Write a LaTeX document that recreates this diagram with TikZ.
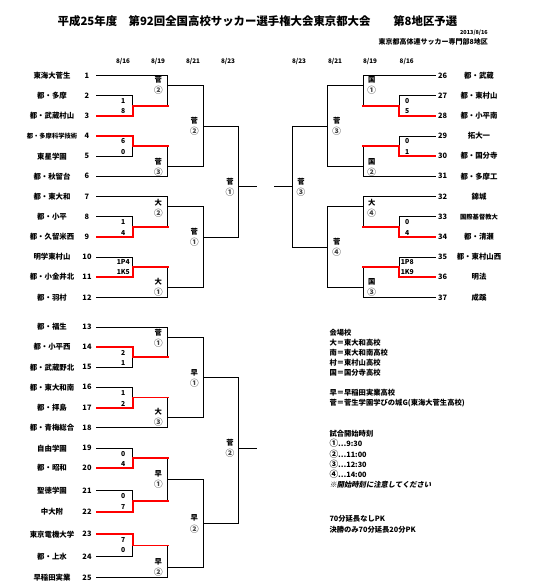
\documentclass[tikz,border=0pt]{standalone}
\usepackage{fontspec}
\setmainfont{Noto Sans CJK JP}
\newfontfamily\cjkslant{Noto Sans CJK JP}[FakeSlant=0.2]
\newcommand\rndlab[5]{\node[rl] (#1a) at (#2,#3) {#4};\node[rl,text=black!75,font=\bfseries\fontsize{8.6}{9}\selectfont] (#1b) at (#2,#3+10.6) {#5};}
\newcommand\scpair[5]{\node[sc] (#1a) at (#2,#3) {#4};\node[sc] (#1b) at (#2,#3+10.6) {#5};}
\newcommand\bigc[1]{{\fontsize{8.6}{9}\selectfont #1}}
\begin{document}
\begin{tikzpicture}[x=1pt,y=-1pt,
  bl/.style={line width=0.75pt},
  rd/.style={draw=red,line width=1.7pt},
  tm/.style={font=\bfseries\fontsize{7.4}{8}\selectfont,inner sep=0pt},
  num/.style={font=\bfseries\fontsize{7.4}{8}\selectfont,inner sep=0pt},
  sc/.style={font=\bfseries\fontsize{6.8}{8}\selectfont,inner sep=0pt},
  rl/.style={font=\bfseries\fontsize{7.3}{8}\selectfont,inner sep=0pt},
  hd/.style={font=\bfseries\fontsize{6.3}{7}\selectfont,inner sep=0pt},
  lg/.style={font=\bfseries\fontsize{7.3}{8}\selectfont,inner sep=0pt,anchor=west}]
\useasboundingbox (0,0) rectangle (539,588);

% title
\node[inner sep=0pt,font=\bfseries\fontsize{11.4}{13}\selectfont] (title) at (257.5,21) {平成25年度　第92回全国高校サッカー選手権大会東京都大会　　第8地区予選};
\node[inner sep=0pt,anchor=east,font=\bfseries\fontsize{5.5}{6}\selectfont] (date) at (488,32.3) {2013/8/16};
\node[inner sep=0pt,anchor=east,font=\bfseries\fontsize{7}{8}\selectfont] (org) at (488,42.3) {東京都高体連サッカー専門部8地区};

% round dates
\node[hd] (hL1) at (123,61.3) {8/16};
\node[hd] (hL2) at (158,61.3) {8/19};
\node[hd] (hL3) at (193,61.3) {8/21};
\node[hd] (hL4) at (228,61.3) {8/23};
\node[hd] (hR4) at (299,61.3) {8/23};
\node[hd] (hR3) at (335,61.3) {8/21};
\node[hd] (hR2) at (370,61.3) {8/19};
\node[hd] (hR1) at (406.7,61.3) {8/16};

% teams left
\foreach \i/\y/\s in {1/75.5/東海大菅生,2/95.7/都・多摩,3/115.8/都・武蔵村山,4/136/{\fontsize{6.3}{7}\selectfont 都・多摩科学技術},5/156.2/東星学園,6/176.3/都・秋留台,7/196.5/都・東大和,8/216.7/都・小平,9/236.9/都・久留米西,10/257/明学東村山,11/277.2/都・小金井北,12/297.4/都・羽村,13/327/都・福生,14/346.9/都・小平西,15/367.3/都・武蔵野北,16/387.3/都・東大和南,17/407.7/都・拝島,18/427.7/都・青梅総合,19/448.3/自由学園,20/467.9/都・昭和,21/490.7/聖徳学園,22/511.7/中大附,23/534.3/東京電機大学,24/556.7/都・上水,25/577.7/早稲田実業}
{\node[tm] (t\i) at (52,\y) {\s};\node[num] (n\i) at (87,\y) {\i};}

% teams right
\foreach \i/\y/\s in {26/75.5/都・武蔵,27/95.7/都・東村山,28/115.8/都・小平南,29/136/拓大一,30/156.2/都・国分寺,31/176.3/都・多摩工,32/196.5/錦城,33/216.7/{\fontsize{6.3}{7}\selectfont 国際基督教大},34/236.9/都・清瀬,35/257/都・東村山西,36/277.2/明法,37/297.4/成蹊}
{\node[tm] (t\i) at (479,\y) {\s};\node[num] (n\i) at (442.7,\y) {\i};}

% ---------- left top ----------
\draw[bl] (96,75.5) -- (167.3,75.5) -- (167.3,105.7);
\draw[bl] (96,95.7) -- (132.7,95.7) -- (132.7,105.7);
\draw[bl] (96,156.2) -- (132.7,156.2) -- (132.7,146.1);
\draw[bl] (96,176.3) -- (167.3,176.3) -- (167.3,146.1);
\draw[bl] (167.3,85.6) -- (203.3,85.6) -- (203.3,166.2) -- (167.3,166.2);
\draw[bl] (203.3,125.9) -- (238.7,125.9);
\draw[rd] (96,115.8) -- (132.7,115.8) -- (132.7,105.7) -- (168.7,105.7);
\draw[rd] (96,136) -- (132.7,136) -- (132.7,146.1) -- (168.7,146.1);

\draw[bl] (96,196.5) -- (167.3,196.5) -- (167.3,226.8);
\draw[bl] (96,216.7) -- (132.7,216.7) -- (132.7,226.8);
\draw[bl] (96,257) -- (132.7,257) -- (132.7,267.1);
\draw[bl] (96,297.4) -- (167.3,297.4) -- (167.3,267.1);
\draw[bl] (167.3,206.6) -- (203.3,206.6) -- (203.3,287.3) -- (167.3,287.3);
\draw[bl] (203.3,236.9) -- (238.7,236.9);
\draw[rd] (96,236.9) -- (132.7,236.9) -- (132.7,226.8) -- (168.7,226.8);
\draw[rd] (96,277.2) -- (132.7,277.2) -- (132.7,267.1) -- (168.7,267.1);

\draw[bl] (238.7,125.9) -- (238.7,236.9);
\draw[bl] (238.7,186.4) -- (256.7,186.4);

% ---------- left bottom ----------
\draw[bl] (96,327) -- (167.3,327) -- (167.3,357.1);
\draw[bl] (96,367.3) -- (132.7,367.3) -- (132.7,357.1);
\draw[bl] (96,387.3) -- (132.7,387.3) -- (132.7,397.5);
\draw[bl] (96,427.7) -- (167.3,427.7) -- (167.3,397.5);
\draw[bl] (167.3,337.2) -- (203.3,337.2) -- (203.3,417.5) -- (167.3,417.5);
\draw[bl] (203.3,377.7) -- (238.7,377.7);
\draw[rd] (96,346.9) -- (132.7,346.9) -- (132.7,357.1) -- (168.7,357.1);
\draw[rd] (96,407.7) -- (132.7,407.7) -- (132.7,397.5) -- (168.7,397.5);

\draw[bl] (96,448.3) -- (132.7,448.3) -- (132.7,458.1);
\draw[bl] (96,490.7) -- (132.7,490.7) -- (132.7,501.2);
\draw[bl] (167.3,458.1) -- (167.3,501.2);
\draw[bl] (96,556.7) -- (132.7,556.7) -- (132.7,545.5);
\draw[bl] (96,577.7) -- (167.3,577.7) -- (167.3,545.5);
\draw[bl] (167.3,479.6) -- (203.3,479.6) -- (203.3,567.2) -- (167.3,567.2);
\draw[bl] (203.3,523.4) -- (238.7,523.4);
\draw[rd] (96,467.9) -- (132.7,467.9) -- (132.7,458.1) -- (168.7,458.1);
\draw[rd] (96,511.7) -- (132.7,511.7) -- (132.7,501.2) -- (168.7,501.2);
\draw[rd] (96,534.3) -- (132.7,534.3) -- (132.7,545.5) -- (168.7,545.5);

\draw[bl] (238.7,377.7) -- (238.7,523.4);
\draw[bl] (238.7,448.3) -- (256.7,448.3);

% ---------- right ----------
\draw[bl] (435.7,75.5) -- (363.3,75.5) -- (363.3,105.7);
\draw[bl] (435.7,95.7) -- (399,95.7) -- (399,105.7);
\draw[bl] (435.7,136) -- (399,136) -- (399,146.1);
\draw[bl] (435.7,176.3) -- (363.3,176.3) -- (363.3,146.1);
\draw[bl] (363.3,85.6) -- (327.7,85.6) -- (327.7,166.2) -- (363.3,166.2);
\draw[bl] (327.7,125.9) -- (292.3,125.9);
\draw[rd] (435.7,115.8) -- (399,115.8) -- (399,105.7) -- (361.9,105.7);
\draw[rd] (435.7,156.2) -- (399,156.2) -- (399,146.1) -- (361.9,146.1);

\draw[bl] (435.7,196.5) -- (363.3,196.5) -- (363.3,226.8);
\draw[bl] (435.7,216.7) -- (399,216.7) -- (399,226.8);
\draw[bl] (435.7,257) -- (399,257) -- (399,267.1);
\draw[bl] (435.7,297.4) -- (363.3,297.4) -- (363.3,267.1);
\draw[bl] (363.3,206.6) -- (327.7,206.6) -- (327.7,287.3) -- (363.3,287.3);
\draw[bl] (327.7,247) -- (292.3,247);
\draw[rd] (435.7,236.9) -- (399,236.9) -- (399,226.8) -- (361.9,226.8);
\draw[rd] (435.7,277.2) -- (399,277.2) -- (399,267.1) -- (361.9,267.1);

\draw[bl] (292.3,125.9) -- (292.3,247);
\draw[bl] (292.3,186.4) -- (274,186.4);

% ---------- round labels ----------
\rndlab{a1}{158.3}{80}{菅}{②}
\rndlab{a2}{158.3}{162}{菅}{③}
\rndlab{a3}{158.3}{202.3}{大}{②}
\rndlab{a4}{158.3}{281.7}{大}{①}
\rndlab{a5}{158.3}{333}{菅}{①}
\rndlab{a6}{158.3}{411.7}{大}{③}
\rndlab{a7}{158.3}{473.5}{早}{①}
\rndlab{a8}{158.3}{562}{早}{②}
\rndlab{b1}{194.3}{120.7}{菅}{②}
\rndlab{b2}{194.3}{231.7}{菅}{①}
\rndlab{b3}{194.3}{372.7}{早}{①}
\rndlab{b4}{194.3}{518.3}{早}{②}
\rndlab{c1}{230}{181.7}{菅}{①}
\rndlab{c2}{230}{443}{菅}{②}
\rndlab{d1}{371.7}{80}{国}{①}
\rndlab{d2}{371.7}{162}{国}{②}
\rndlab{d3}{371.7}{202.3}{大}{④}
\rndlab{d4}{371.7}{281.7}{国}{③}
\rndlab{e1}{336.7}{120.7}{菅}{③}
\rndlab{e2}{336.7}{241.7}{菅}{④}
\rndlab{f1}{301}{181.7}{菅}{③}

% ---------- scores ----------
\scpair{s1}{123.3}{100.8}{1}{8}
\scpair{s2}{123.3}{141}{6}{0}
\scpair{s3}{123.3}{222}{1}{4}
\scpair{s4}{123.3}{261.7}{1P4}{1K5}
\scpair{s5}{123.3}{352.8}{2}{1}
\scpair{s6}{123.3}{393}{1}{2}
\scpair{s7}{123.3}{453.6}{0}{4}
\scpair{s8}{123.3}{496}{0}{7}
\scpair{s9}{123.3}{539.6}{7}{0}
\scpair{s10}{407.3}{100.8}{0}{5}
\scpair{s11}{407.3}{141}{0}{1}
\scpair{s12}{407.3}{222}{0}{4}
\scpair{s13}{407.3}{261.7}{1P8}{1K9}

% ---------- legend ----------
\node[lg] (g1) at (329.3,332.3) {会場校};
\node[lg] (g2) at (329.3,342.3) {大＝東大和高校};
\node[lg] (g3) at (329.3,352.4) {南＝東大和南高校};
\node[lg] (g4) at (329.3,362.5) {村＝東村山高校};
\node[lg] (g5) at (329.3,372.7) {国＝国分寺高校};
\node[lg] (g6) at (329.3,392.8) {早＝早稲田実業高校};
\node[lg] (g7) at (329.3,403.2) {菅＝菅生学園学びの城G(東海大菅生高校)};
\node[lg] (g8) at (329.3,433.3) {試合開始時刻};
\node[lg] (g9) at (329.3,443.5) {\bigc{①}…9:30};
\node[lg] (g10) at (329.3,453.9) {\bigc{②}…11:00};
\node[lg] (g11) at (329.3,464.2) {\bigc{③}…12:30};
\node[lg] (g12) at (329.3,474.4) {\bigc{④}…14:00};
\node[lg,font=\cjkslant\bfseries\fontsize{7.3}{8}\selectfont] (g13) at (329.3,484.8) {※開始時刻に注意してください};
\node[lg] (g14) at (329.3,519) {70分延長なしPK};
\node[lg] (g15) at (329.3,529.3) {決勝のみ70分延長20分PK};
\end{tikzpicture}
\end{document}
